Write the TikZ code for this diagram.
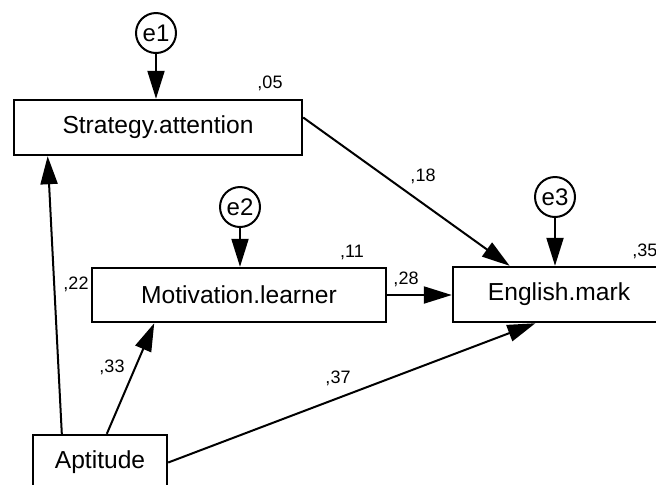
\documentclass[tikz,border=0pt]{standalone}
\usepackage{fontspec}
\setmainfont{Liberation Sans}
\usetikzlibrary{arrows.meta, calc, positioning}
\tikzset{
  scatola/.style={draw,line width=1.2pt,inner sep=0pt,font=\fontsize{12.3}{14}\selectfont},
  errore/.style={circle,draw,line width=1pt,inner sep=0pt,minimum size=20pt,font=\fontsize{12}{14}\selectfont},
  coeff/.style={font=\fontsize{9}{11}\selectfont,inner sep=0pt}
}

\begin{document}
\begin{tikzpicture}[
    x=0.5pt, y=-0.5pt,
    line join=miter,
    freccia/.style = {line width=1pt, -{Triangle[length=14pt,width=8.5pt]}}
]
\useasboundingbox (0,0) rectangle (656,484);

% ---- variabili osservate ----
\node[scatola, minimum width=144pt, minimum height=27.5pt] (strat) at (158,127.5) {Strategy.attention};
\node[scatola, minimum width=147pt, minimum height=27pt]   (motiv) at (239,295) {Motivation.learner};
\node[scatola, minimum width=106pt, minimum height=27.5pt] (engl)  at (559,294.5) {English.mark};
\node[scatola, minimum width=67pt,  minimum height=27.5pt] (apt)   at (100,462.5) {Aptitude};

% ---- errori ----
\node[errore] (e1) at (156,33)  {e1};
\node[errore] (e2) at (240,207) {e2};
\node[errore] (e3) at (555,197) {e3};

\draw[freccia] (e1.south) -- (e1.south |- strat.north);
\draw[freccia] (e2.south) -- (e2.south |- motiv.north);
\draw[freccia] (e3.south) -- (e3.south |- engl.north);

% ---- percorsi ----
\draw[freccia] ($(apt.north west)!0.22!(apt.north east)$) -- ($(strat.south west)!0.12!(strat.south east)$);
\draw[freccia] ($(apt.north west)!0.55!(apt.north east)$) -- ($(motiv.south west)!0.214!(motiv.south east)$);
\draw[freccia] (apt.east) -- ($(engl.south west)!0.39!(engl.south east)$);
\draw[freccia] ($(strat.east)+(0,-10)$) -- ($(engl.north west)!0.27!(engl.north east)$);
\draw[freccia] (motiv.east) -- (motiv.east -| engl.west);

% ---- coefficienti ----
\node[coeff] (r05) at (270,83)  {,05};
\node[coeff] (r11) at (352,252) {,11};
\node[coeff, anchor=west] (r35) at (632,251) {,35};
\node[coeff] (c18) at (423,176) {,18};
\node[coeff] (c28) at (406,279) {,28};
\node[coeff] (c22) at (76,284)  {,22};
\node[coeff] (c33) at (112,367) {,33};
\node[coeff] (c37) at (338,378) {,37};

\end{tikzpicture}
\end{document}
